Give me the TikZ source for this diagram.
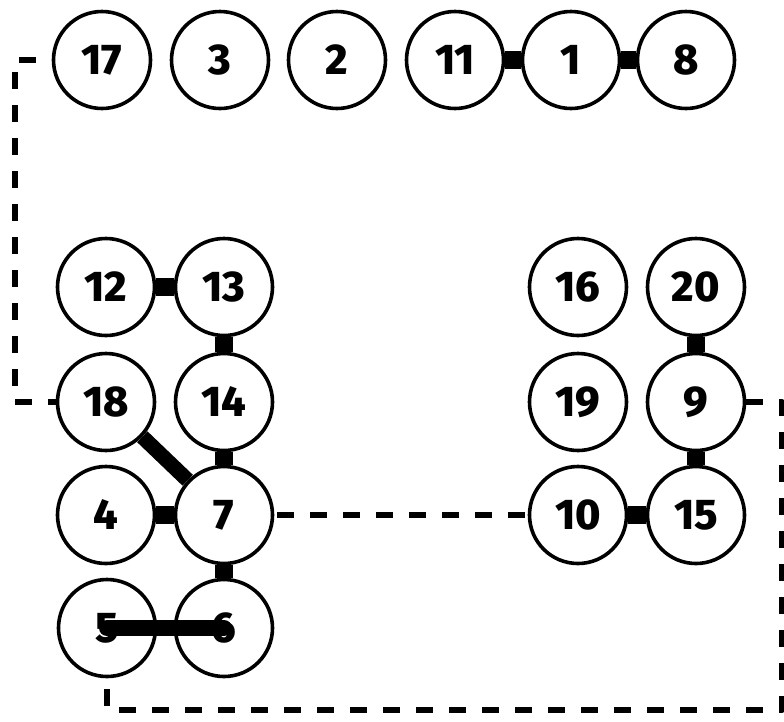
\documentclass[tikz,border=0pt]{standalone}
\usepackage{fontspec}
\setmainfont{Fira Sans}[BoldFont={Fira Sans ExtraBold}]
\tikzset{
  ball/.style={draw, circle, line width=3.6pt, minimum size=97pt, inner sep=0pt},
  bond/.style={line width=18pt, line cap=butt},
  link/.style={line width=5.5pt, line cap=butt, dash pattern=on 17pt off 16pt}
}
\begin{document}
\begin{tikzpicture}[font=\fontsize{43}{43}\selectfont\bfseries, line join=round, x=1pt, y=-1pt]
				\useasboundingbox (0,0) rectangle (784,721);
				\node[ball] (n17) at (102,60) {17};
				\node[ball] (n3) at (220,60) {3};
				\node[ball] (n2) at (337,60) {2};
				\node[ball] (n11) at (455,60) {11};
				\node[ball] (n1) at (571,60) {1};
				\node[ball] (n8) at (686,60) {8};
				\node[ball] (n12) at (106,287) {12};
				\node[ball] (n13) at (224,287) {13};
				\node[ball] (n18) at (106,402) {18};
				\node[ball] (n14) at (224,402) {14};
				\node[ball] (n4) at (106,515) {4};
				\node[ball] (n7) at (224,515) {7};
				\node[ball] (n5) at (107,628) {5};
				\node[ball] (n6) at (224,628) {6};
				\node[ball] (n16) at (578,287) {16};
				\node[ball] (n20) at (696,287) {20};
				\node[ball] (n19) at (578,402) {19};
				\node[ball] (n9) at (696,402) {9};
				\node[ball] (n10) at (578,515) {10};
				\node[ball] (n15) at (696,515) {15};
				\coordinate (leftturn) at (15,402);
				\coordinate (rightturn) at (782,710);
				\draw[bond] (n11) -- (n1);
				\draw[bond] (n1) -- (n8);
				\draw[bond] (n12) -- (n13);
				\draw[bond] (n13) -- (n14);
				\draw[bond] (n14) -- (n7);
				\draw[bond, line width=15pt] (n18) -- (n7);
				\draw[bond] (n4) -- (n7);
				\draw[bond] (n7) -- (n6);
				\draw[bond, line width=16pt, line cap=round] (n5.center) -- (n6.center);
				\draw[bond] (n20) -- (n9);
				\draw[bond] (n9) -- (n15);
				\draw[bond] (n10) -- (n15);
				\draw[link, dash phase=17pt] (n17.west) -| (leftturn) -- (n18.west);
				\draw[link, dash phase=30pt] (n7) -- (n10);
				\draw[link] (n9.east) -| (rightturn) -| (n5.south);
			\end{tikzpicture}
\end{document}
